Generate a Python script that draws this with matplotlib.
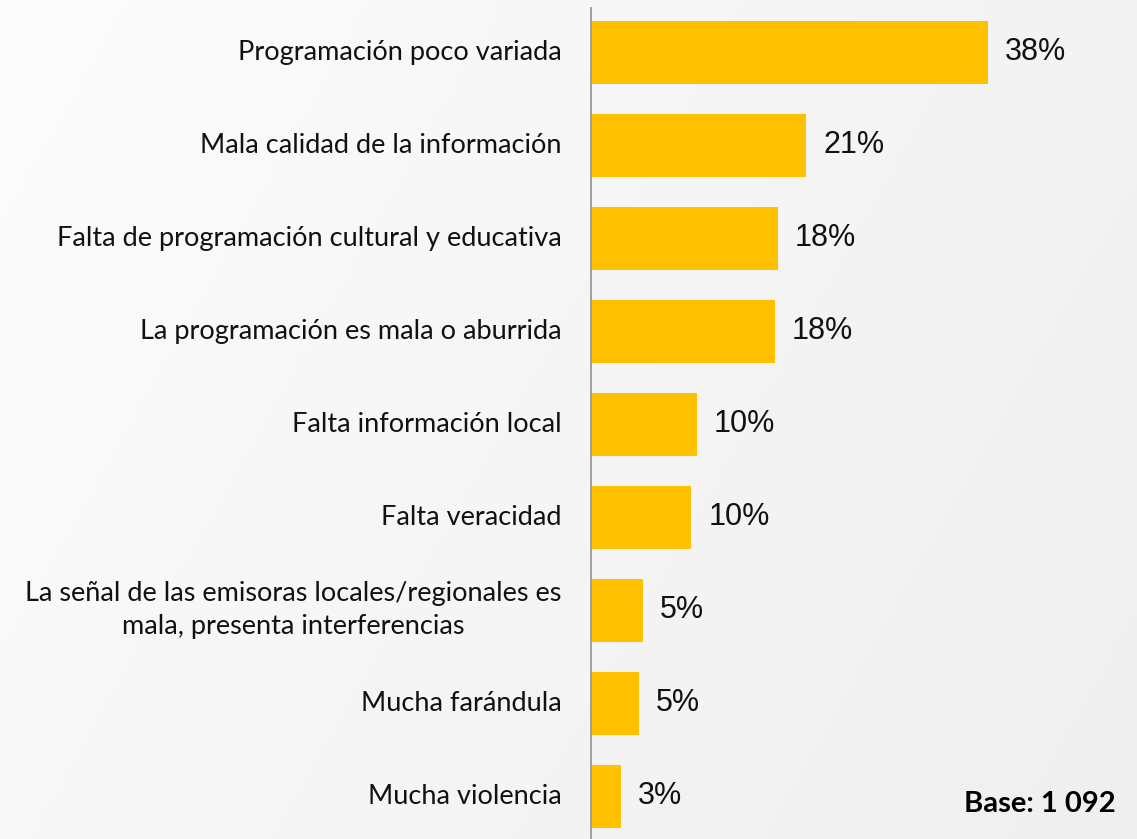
import numpy as np
import matplotlib.pyplot as plt
import matplotlib.font_manager as fm
from matplotlib.colors import LinearSegmentedColormap

categories = [
    'Programación poco variada',
    'Mala calidad de la información',
    'Falta de programación cultural y educativa',
    'La programación es mala o aburrida',
    'Falta información local',
    'Falta veracidad',
    'La señal de las emisoras locales/regionales es\nmala, presenta interferencias',
    'Mucha farándula',
    'Mucha violencia',
]
values = [38.0, 20.6, 17.9, 17.6, 10.1, 9.6, 5.0, 4.6, 2.9]
base_note = 'Base: 1 092'

names = {f.name for f in fm.fontManager.ttflist}
label_font = 'Lato' if 'Lato' in names else 'DejaVu Sans'
value_font = 'Liberation Sans Narrow' if 'Liberation Sans Narrow' in names else 'Liberation Sans'

W, H = 1137, 839
fig = plt.figure(figsize=(W / 100, H / 100), dpi=100)
fig.patch.set_facecolor('#f8f7f8')

# soft light-grey backdrop, whiter at the top left
bg = fig.add_axes([0, 0, 1, 1], zorder=-1)
gx, gy = np.meshgrid(np.linspace(0, 1, 200), np.linspace(0, 1, 150))
shade = np.clip(0.6 * gx + 0.25 * gy, 0, 1)
cmap = LinearSegmentedColormap.from_list('bg', ['#fdfcfd', '#f0eff0'])
bg.imshow(shade, cmap=cmap, aspect='auto', extent=[0, 1, 0, 1], origin='upper')
bg.axis('off')

ax = fig.add_axes([591 / W, 0, 1 - 591 / W, (H - 8) / H])
ax.set_facecolor('none')

y = list(range(len(categories)))
ax.barh(y, values, height=0.68, color='#FFC000')
ax.set_xlim(0, 52.2)
ax.set_ylim(8.457, -0.478)

for yi, v in zip(y, values):
    ax.text(v + 1.6, yi, f'{v:.0f}%', va='center', ha='left',
            fontsize=22, family=value_font, color='#111111')

for yi, c in zip(y, categories):
    ax.text(-2.8, yi, c, va='center', ha='right', multialignment='center',
            fontsize=19.5, family=label_font, color='#111111', linespacing=1.4)

ax.text(50.2, 8.08, base_note, ha='right', va='center', fontsize=21,
        family=label_font, fontweight='bold', color='#000000')

for s in ['top', 'right', 'bottom']:
    ax.spines[s].set_visible(False)
ax.spines['left'].set_color('#9a9a9a')
ax.spines['left'].set_linewidth(1.3)
ax.set_xticks([])
ax.set_yticks([])

fig.savefig('out.png', dpi=100, facecolor=fig.get_facecolor())
